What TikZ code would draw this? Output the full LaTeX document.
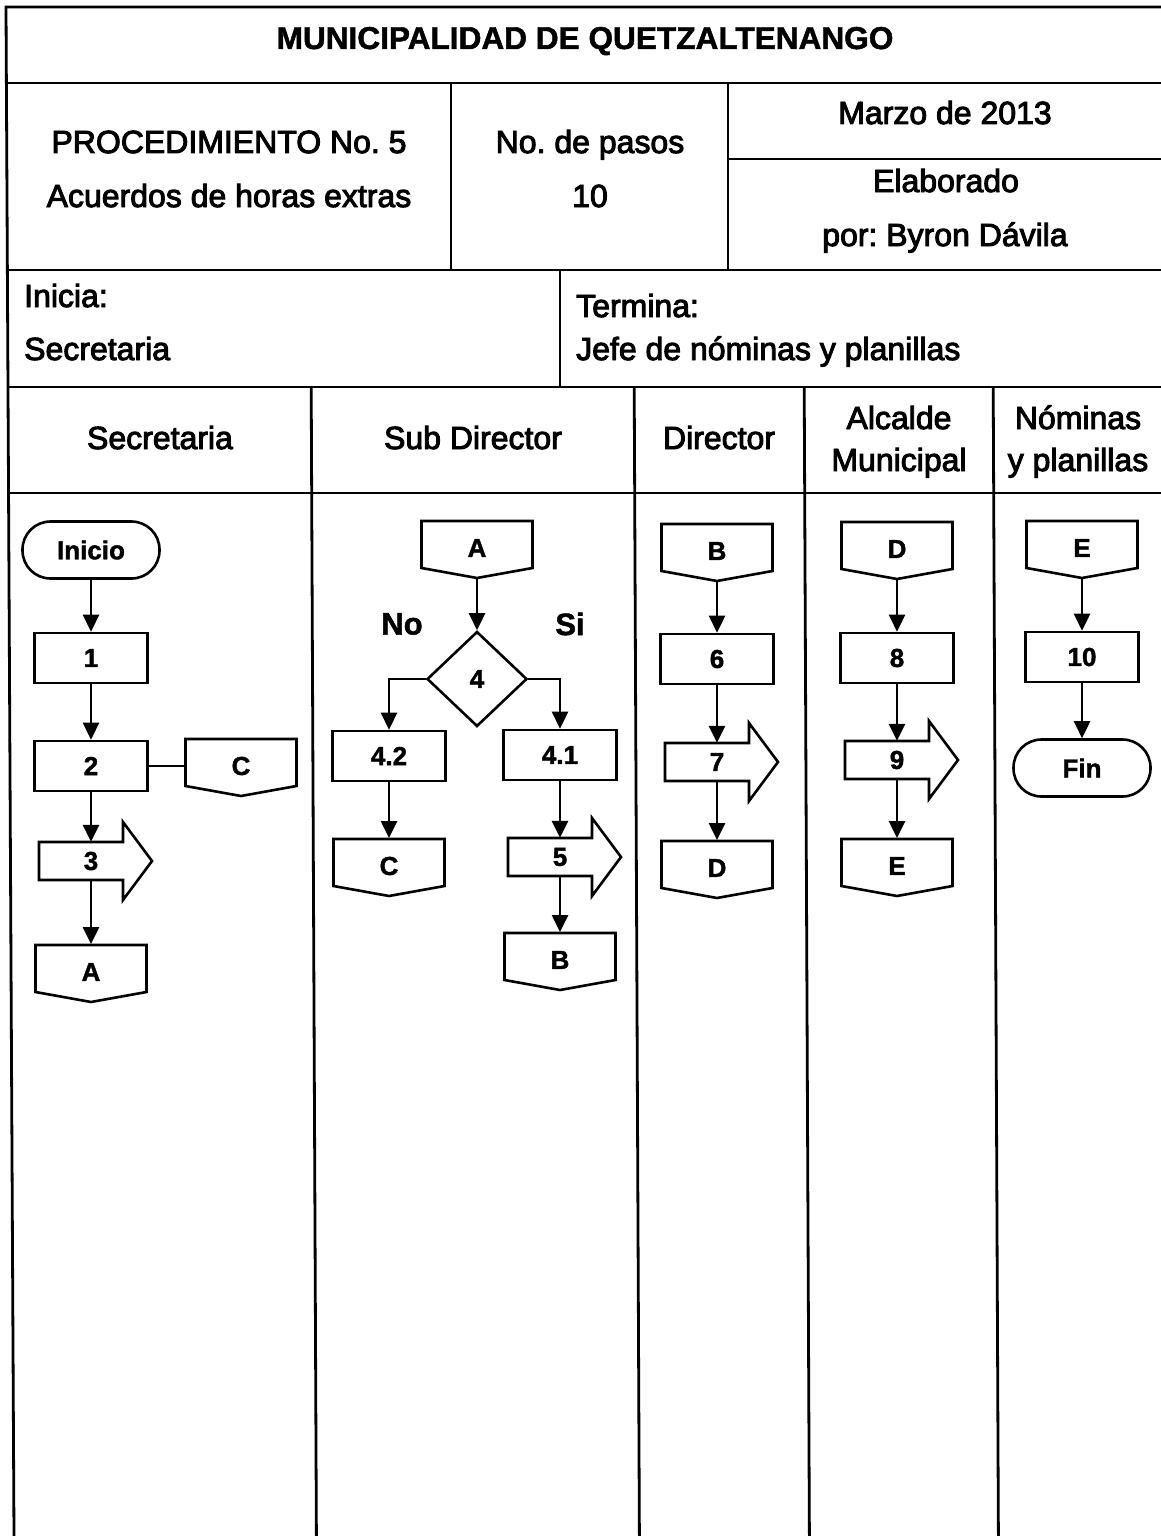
\documentclass[tikz,border=0pt]{standalone}
\usepackage{fontspec}
\setmainfont{Liberation Sans}
\newfontfamily\hdfont{Liberation Sans}[FakeBold=3]
\newfontfamily\heavy{Liberation Sans Bold}[FakeBold=1.5]
\usetikzlibrary{arrows.meta,shapes.geometric,calc}
\frenchspacing

% off-page connector: name, x, y (centre of the label), label
\newcommand\offpg[4]{%
  \node[offnode] (#1) at (#2,#3) {#4};
  \draw[shp,shift={(#1.center)}] (-55.5,-27) -- (55.5,-27) -- (55.5,20)
    -- (0,30) -- (-55.5,20) -- cycle;
  \path[shift={(#1.center)}] (0,-28) coordinate (#1-top) (0,30) coordinate (#1-tip)
    (-56,-3) coordinate (#1-west);
}
% block-arrow step: name, x, y (centre of the body), label
\newcommand\arrstep[4]{%
  \node[arrnode] (#1) at (#2,#3) {#4};
  \draw[shp,shift={(#1.center)}] (-52,-19) -- (32,-19) -- (32,-39) -- (61,0)
    -- (32,39) -- (32,19) -- (-52,19) -- cycle;
}

\begin{document}
\begin{tikzpicture}[x=1pt,y=-1pt,
  frame/.style={line width=2.8pt},
  shp/.style={line width=2.6pt,line join=miter},
  arr/.style={line width=2.6pt,-{Triangle[length=17pt,width=16pt]}},
  hd/.style={inner sep=0pt,font={\hdfont\fontsize{32}{38}\selectfont}},
  lbl/.style={font={\heavy\fontsize{26}{30}\selectfont}},
  stepbox/.style={draw,line width=2.6pt,minimum width=113pt,minimum height=50pt,
    inner sep=0pt,lbl},
  term/.style={draw,line width=2.6pt,rounded corners=28pt,minimum width=137pt,
    minimum height=57pt,inner sep=0pt,lbl},
  offnode/.style={rectangle,inner sep=0pt,lbl},
  arrnode/.style={rectangle,minimum width=40pt,minimum height=38pt,inner sep=0pt,lbl},
  dec/.style={diamond,draw,line width=2.6pt,minimum width=100pt,minimum height=95pt,
    inner sep=0pt,lbl},
  yn/.style={inner sep=0pt,font={\heavy\fontsize{31}{36}\selectfont}}
]
\useasboundingbox (0,0) rectangle (1161,1536);
\fill[white] (0,0) rectangle (1161,1536);

% ---------- header frame ----------
\draw[frame] (1161,7) -- (6,7) -- (14,1536);
\draw[frame] (6.4,83) -- (1161,83);
\draw[frame] (451,83) -- (451,270);
\draw[frame] (728,83) -- (728,270);
\draw[frame] (728,159) -- (1161,159);
\draw[frame] (7.4,270) -- (1161,270);
\draw[frame] (560,270) -- (560,387);
\draw[frame] (8,387) -- (1161,387);
\draw[frame] (8.6,493) -- (1161,493);
% lane separators
\draw[frame] (311.2,387) -- (316.4,1536);
\draw[frame] (634.2,387) -- (639.4,1536);
\draw[frame] (804.2,387) -- (809.4,1536);
\draw[frame] (993.2,387) -- (998.4,1536);

% ---------- header texts ----------
\node[inner sep=0pt,anchor=base,font={\heavy\fontsize{31.6}{36}\selectfont}] (title) at (585,49) {MUNICIPALIDAD DE QUETZALTENANGO};
\node[hd,anchor=base] (proc) at (229,153) {PROCEDIMIENTO No. 5};
\node[hd,anchor=base] (procname) at (229,207) {Acuerdos de horas extras};
\node[hd,anchor=base] (npasos) at (590,153) {No. de pasos};
\node[hd,anchor=base] (npasosv) at (590,207) {10};
\node[hd,anchor=base] (fecha) at (945,124) {Marzo de 2013};
\node[hd,anchor=base] (elab) at (946,192) {Elaborado};
\node[hd,anchor=base] (autor) at (945,246) {por: Byron Dávila};
\node[hd,anchor=base west] (inicia) at (24,307) {Inicia:};
\node[hd,anchor=base west] (iniciav) at (24,360) {Secretaria};
\node[hd,anchor=base west] (termina) at (576,317) {Termina:};
\node[hd,anchor=base west] (terminav) at (576,360) {Jefe de nóminas y planillas};

% ---------- lane titles ----------
\node[hd,anchor=base] (l1) at (160,449) {Secretaria};
\node[hd,anchor=base] (l2) at (473,449) {Sub Director};
\node[hd,anchor=base] (l3) at (719,449) {Director};
\node[hd,anchor=base] (l4a) at (899,429) {Alcalde};
\node[hd,anchor=base] (l4b) at (899,471) {Municipal};
\node[hd,anchor=base] (l5a) at (1078,429) {Nóminas};
\node[hd,anchor=base] (l5b) at (1078,471) {y planillas};

% ---------- Secretaria ----------
\node[term] (inicio) at (91,550) {Inicio};
\node[stepbox] (s1) at (91,658) {1};
\node[stepbox] (s2) at (91,766) {2};
\offpg{cS}{241}{766}{C}
\arrstep{s3}{91}{861}{3}
\offpg{aS}{91}{972}{A}
\draw[arr] (inicio) -- (s1);
\draw[arr] (s1) -- (s2);
\draw[shp] (s2.east) -- (s2.east -| cS-west);
\draw[arr] (s2) -- (s3.north);
\draw[arr] (s3.south) -- (aS-top);

% ---------- Sub Director ----------
\offpg{aD}{477}{548}{A}
\node[dec] (d4) at (477,679) {4};
\node[yn] (no) at (402,624) {No};
\node[yn] (si) at (570,624) {Si};
\node[stepbox] (s42) at (389,756) {4.2};
\node[stepbox] (s41) at (560,755) {4.1};
\offpg{cD}{389}{866}{C}
\arrstep{s5}{560}{857}{5}
\offpg{bD}{560}{960}{B}
\draw[arr] (aD-tip) -- (d4.north);
\draw[arr] (d4.west) -| (s42.north);
\draw[arr] (d4.east) -| (s41.north);
\draw[arr] (s42) -- (cD-top);
\draw[arr] (s41) -- (s5.north);
\draw[arr] (s5.south) -- (bD-top);

% ---------- Director ----------
\offpg{bR}{717}{551}{B}
\node[stepbox] (s6) at (717,659) {6};
\arrstep{s7}{717}{762}{7}
\offpg{dR}{717}{868}{D}
\draw[arr] (bR-tip) -- (s6);
\draw[arr] (s6) -- (s7.north);
\draw[arr] (s7.south) -- (dR-top);

% ---------- Alcalde Municipal ----------
\offpg{dA}{897}{549}{D}
\node[stepbox] (s8) at (897,658) {8};
\arrstep{s9}{897}{760}{9}
\offpg{eA}{897}{866}{E}
\draw[arr] (dA-tip) -- (s8);
\draw[arr] (s8) -- (s9.north);
\draw[arr] (s9.south) -- (eA-top);

% ---------- Nóminas y planillas ----------
\offpg{eN}{1082}{548}{E}
\node[stepbox] (s10) at (1082,657) {10};
\node[term] (fin) at (1082,768) {Fin};
\draw[arr] (eN-tip) -- (s10);
\draw[arr] (s10) -- (fin);
\end{tikzpicture}
\end{document}
